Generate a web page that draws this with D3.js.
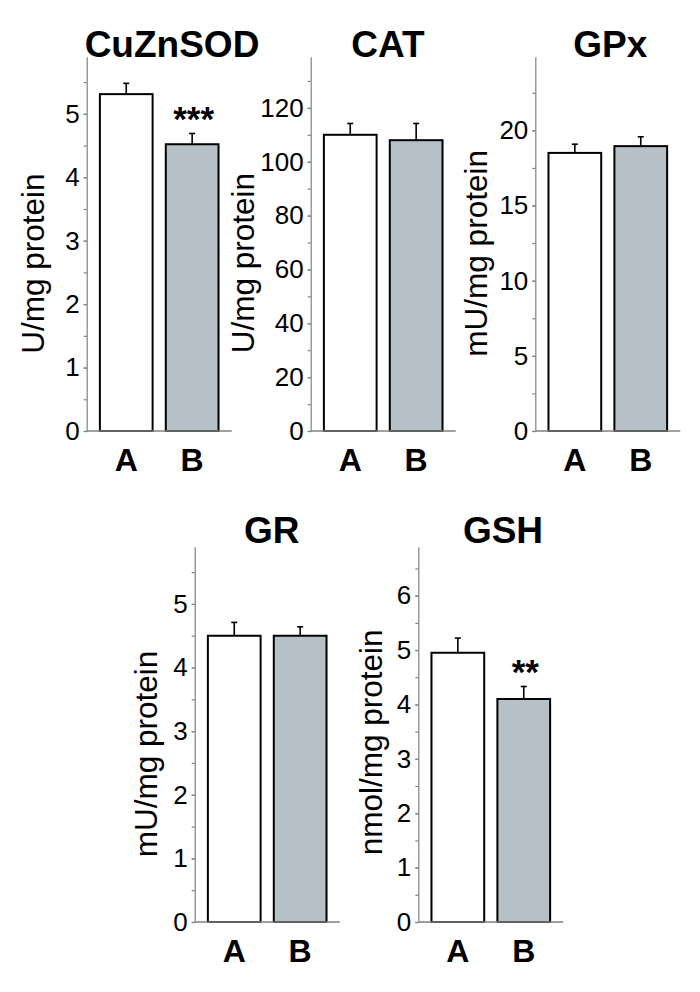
<!DOCTYPE html>
<html>
<head>
<meta charset="UTF-8" />
<title>Antioxidant enzymes</title>
<script src="https://cdnjs.cloudflare.com/ajax/libs/d3/7.8.5/d3.min.js"></script>
<style>
  body { margin: 0; background: #fff; }
  svg, svg text { font-family: Arial, "Liberation Sans", sans-serif; }
  .axis path, .axis line { stroke: #808080; stroke-width: 1.2px; }
  .axis text { font-size: 26px; fill: #000; }
  .title { font-size: 37px; font-weight: bold; text-anchor: middle; }
  .ylab { font-size: 31.5px; text-anchor: middle; }
  .xlab { font-size: 32px; font-weight: bold; text-anchor: middle; }
  .star { font-size: 35px; font-weight: bold; text-anchor: middle; }
</style>
</head>
<body>
<script>
// ---- data ----
var panels = ["CuZnSOD", "CAT", "GPx", "GR", "GSH"];
var groups = ["A", "B"];
var means  = [[5.31, 4.52], [110, 108], [18.5, 18.95], [4.5, 4.5], [4.95, 4.1]];
var errors = [[0.17, 0.17], [4.2, 6.2], [0.58, 0.62], [0.21, 0.14], [0.27, 0.23]];
var yMax = [5.9, 139, 24.9, 5.9, 6.9];
var majorStep = [1, 20, 5, 1, 1];
var minorStep = [0.5, 10, 2.5, 0.5, 0.5];
var yTitles = ["U/mg protein", "U/mg protein", "mU/mg protein", "mU/mg protein", "nmol/mg protein"];
var stars = [["", "***"], ["", ""], ["", ""], ["", ""], ["", "**"]];

// ---- layout (pixels) ----
var layout = [
  {x: 86.7,  top: 56.7,  bottom: 431, titleDx: 12.8, titleY: 57.3,  labDx: -42.7, labDy: 19.7},
  {x: 310.7, top: 56.7,  bottom: 431, titleDx: 4.8,  titleY: 57.3,  labDx: -56.7, labDy: 19.2},
  {x: 535.3, top: 56.7,  bottom: 431, titleDx: 2.5,  titleY: 57.3,  labDx: -48.8, labDy: 9.5},
  {x: 194.7, top: 546.7, bottom: 922, titleDx: 4.5,  titleY: 543.3, labDx: -38.2, labDy: 19.7},
  {x: 418.3, top: 546.7, bottom: 922, titleDx: 12.2, titleY: 543.3, labDx: -36.3, labDy: 8}
];
var plotW = 145;

var svg = d3.select("body").append("svg")
    .attr("width", 700)
    .attr("height", 992);

panels.forEach(function(name, i) {
  var L = layout[i];
  var g = svg.append("g").attr("transform", "translate(" + L.x + ",0)");

  var x = d3.scaleBand().domain(groups).range([0, plotW]).padding(0.2);
  var y = d3.scaleLinear().domain([0, yMax[i]]).range([L.bottom, L.top]);

  // minor ticks
  g.append("g")
    .attr("class", "axis")
    .call(d3.axisLeft(y)
      .tickValues(d3.range(0, yMax[i] + 1e-9, minorStep[i]))
      .tickSize(3).tickSizeOuter(0).tickFormat(""));

  // major ticks + labels
  g.append("g")
    .attr("class", "axis")
    .call(d3.axisLeft(y)
      .tickValues(d3.range(0, yMax[i] + 1e-9, majorStep[i]))
      .tickFormat(d3.format("d"))
      .tickSize(3).tickSizeOuter(0).tickPadding(4))
    .call(function(a) {
      a.select(".domain").remove();
      a.attr("font-family", null).attr("font-size", null);
    });

  // error bars (upper only)
  var eb = g.selectAll(".err").data(groups).enter().append("g");
  eb.append("line")
    .attr("x1", function(d) { return x(d) + x.bandwidth() / 2; })
    .attr("x2", function(d) { return x(d) + x.bandwidth() / 2; })
    .attr("y1", function(d, j) { return y(means[i][j]); })
    .attr("y2", function(d, j) { return y(means[i][j] + errors[i][j]); })
    .attr("stroke", "#000").attr("stroke-width", 1.6);
  eb.append("line")
    .attr("x1", function(d) { return x(d) + x.bandwidth() / 2 - 3; })
    .attr("x2", function(d) { return x(d) + x.bandwidth() / 2 + 3; })
    .attr("y1", function(d, j) { return y(means[i][j] + errors[i][j]); })
    .attr("y2", function(d, j) { return y(means[i][j] + errors[i][j]); })
    .attr("stroke", "#000").attr("stroke-width", 1.6);

  // bars
  g.selectAll(".bar").data(groups).enter().append("rect")
    .attr("x", function(d) { return x(d); })
    .attr("width", x.bandwidth())
    .attr("y", function(d, j) { return y(means[i][j]); })
    .attr("height", function(d, j) { return y(0) - y(means[i][j]); })
    .attr("fill", function(d, j) { return j === 0 ? "#ffffff" : "#b5c0c7"; })
    .attr("stroke", "#000")
    .attr("stroke-width", 2);

  // baseline
  g.append("line")
    .attr("x1", 0).attr("x2", plotW)
    .attr("y1", y(0)).attr("y2", y(0))
    .attr("stroke", "#808080").attr("stroke-width", 1.4);

  // significance stars
  g.selectAll(".star").data(groups).enter().append("text")
    .attr("class", "star")
    .attr("x", function(d) { return x(d) + x.bandwidth() / 2 + 1.5; })
    .attr("y", function(d, j) { return y(means[i][j] + errors[i][j]) - 2; })
    .text(function(d, j) { return stars[i][j]; });

  // x labels
  g.selectAll(".xlab").data(groups).enter().append("text")
    .attr("class", "xlab")
    .attr("x", function(d) { return x(d) + x.bandwidth() / 2; })
    .attr("y", L.bottom + 39.7)
    .text(function(d) { return d; });

  // title
  g.append("text")
    .attr("class", "title")
    .attr("x", plotW / 2 + L.titleDx)
    .attr("y", L.titleY)
    .text(name);

  // y title
  var cy = (L.top + L.bottom) / 2 + L.labDy;
  g.append("text")
    .attr("class", "ylab")
    .attr("transform", "translate(" + L.labDx + "," + cy + ") rotate(-90)")
    .text(yTitles[i]);
});
</script>
</body>
</html>
